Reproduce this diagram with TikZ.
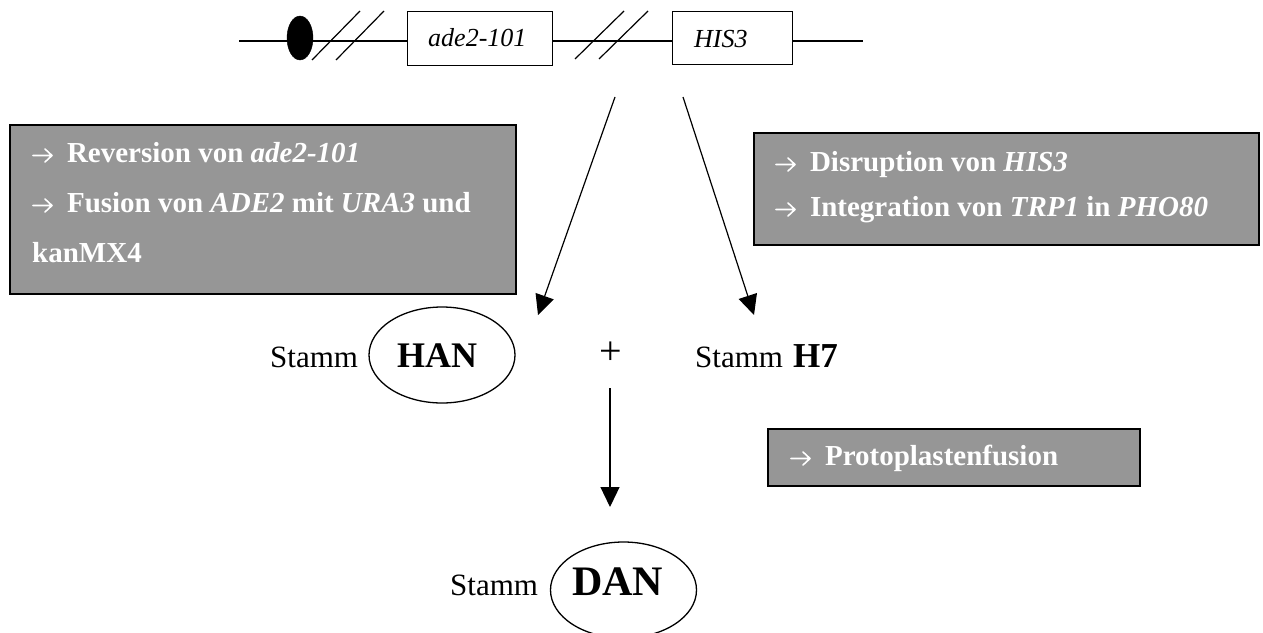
\documentclass[tikz,border=0pt]{standalone}
\usepackage{fontspec}
\setmainfont{Liberation Serif}
\usetikzlibrary{arrows.meta,shapes.geometric}
\definecolor{boxgray}{RGB}{150,150,150}
\newcommand{\rarr}{\tikz[baseline=0pt,x=1pt,y=1pt]\draw[draw=white,line width=1.6pt,line cap=round,line join=round] (0,6.5) -- (19,6.5) (12,13) -- (19,6.5) -- (12,0);\hspace{7pt}}
\begin{document}
\begin{tikzpicture}[x=1pt,y=-1pt,
  graybox/.style={draw=black, line width=1.8pt, fill=boxgray, anchor=north west, inner sep=0pt},
  boxtxt/.style={anchor=base west, inner sep=0pt, text=white, font=\fontsize{29}{34}\selectfont\bfseries},
  genebox/.style={draw=black, line width=1.3pt, fill=white, anchor=north west, inner sep=0pt},
  genetxt/.style={anchor=base west, inner sep=0pt, font=\fontsize{26}{30}\selectfont\itshape},
  stammtxt/.style={anchor=base west, inner sep=0pt, font=\fontsize{31}{36}\selectfont},
  strain/.style={draw=black, line width=1.3pt, ellipse, inner sep=0pt, minimum width=146pt, minimum height=96pt},
  straintxt/.style={anchor=base, inner sep=0pt, font=\fontsize{36}{40}\selectfont\bfseries},
  arr/.style={line width=1.2pt, -{Triangle[length=20pt,width=19pt]}},
  slash/.style={line width=1.2pt},
]
\useasboundingbox (0,0) rectangle (1263,632);

% chromosome
\coordinate (cl) at (239,41);
\coordinate (cr) at (863,41);
\draw[line width=1.3pt] (cl) -- (cr);
\node[draw=black, fill=black, ellipse, inner sep=0pt, minimum width=26pt, minimum height=44pt] (cen) at (300,38) {};
\coordinate (s1a) at (312,60); \coordinate (s1b) at (360,11);
\coordinate (s2a) at (336,60); \coordinate (s2b) at (384,11);
\coordinate (s3a) at (575,59); \coordinate (s3b) at (624,11);
\coordinate (s4a) at (599,59); \coordinate (s4b) at (648,11);
\draw[slash] (s1a) -- (s1b);
\draw[slash] (s2a) -- (s2b);
\draw[slash] (s3a) -- (s3b);
\draw[slash] (s4a) -- (s4b);
\node[genebox, minimum width=145pt, minimum height=54pt] (ade) at (407,11) {};
\node[genebox, minimum width=120pt, minimum height=53pt] (his) at (672,11) {};
\node[genetxt] (adet) at (428,46) {ade2-101};
\node[genetxt] (hist) at (694,47) {HIS3};

% left box
\node[graybox, minimum width=506pt, minimum height=169pt] (lbox) at (9,124) {};
\node[boxtxt] (l1) at (32,162) {\rarr\ Reversion von \textit{ade2-101}};
\node[boxtxt] (l2) at (32,212) {\rarr\ Fusion von \textit{ADE2} mit \textit{URA3} und};
\node[boxtxt] (l3) at (32,262) {kanMX4};

% right box
\node[graybox, minimum width=505pt, minimum height=112pt] (rbox) at (753,132) {};
\node[boxtxt] (r1) at (775,171) {\rarr\ Disruption von \textit{HIS3}};
\node[boxtxt] (r2) at (775,216) {\rarr\ Integration von \textit{TRP1} in \textit{PHO80}};

% protoplast box
\node[graybox, minimum width=372pt, minimum height=57pt] (pbox) at (767,428) {};
\node[boxtxt] (p1) at (790,465) {\rarr\ Protoplastenfusion};

% arrows from chromosome
\coordinate (a1s) at (615,97); \coordinate (a1e) at (538,315);
\coordinate (a2s) at (683,97); \coordinate (a2e) at (754,315);
\draw[arr] (a1s) -- (a1e);
\draw[arr] (a2s) -- (a2e);

% strains
\node[stammtxt] (st1) at (270,367) {Stamm};
\node[strain] (han) at (442,355) {};
\node[straintxt] (hant) at (437,367) {HAN};
\node[inner sep=0pt, font=\fontsize{40}{44}\selectfont] (plus) at (611,353) {+};
\node[stammtxt] (st2) at (695,367) {Stamm};
\node[anchor=base west, inner sep=0pt, font=\fontsize{35}{40}\selectfont\bfseries] (h7) at (793,367) {H7};

\coordinate (d0) at (610,388); \coordinate (d1) at (610,507);
\draw[arr] (d0) -- (d1);

\node[stammtxt] (st3) at (450,595) {Stamm};
\node[strain] (dan) at (623.5,590) {};
\node[straintxt, font=\fontsize{42}{46}\selectfont\bfseries] (dant) at (617.5,595) {DAN};
\end{tikzpicture}
\end{document}
